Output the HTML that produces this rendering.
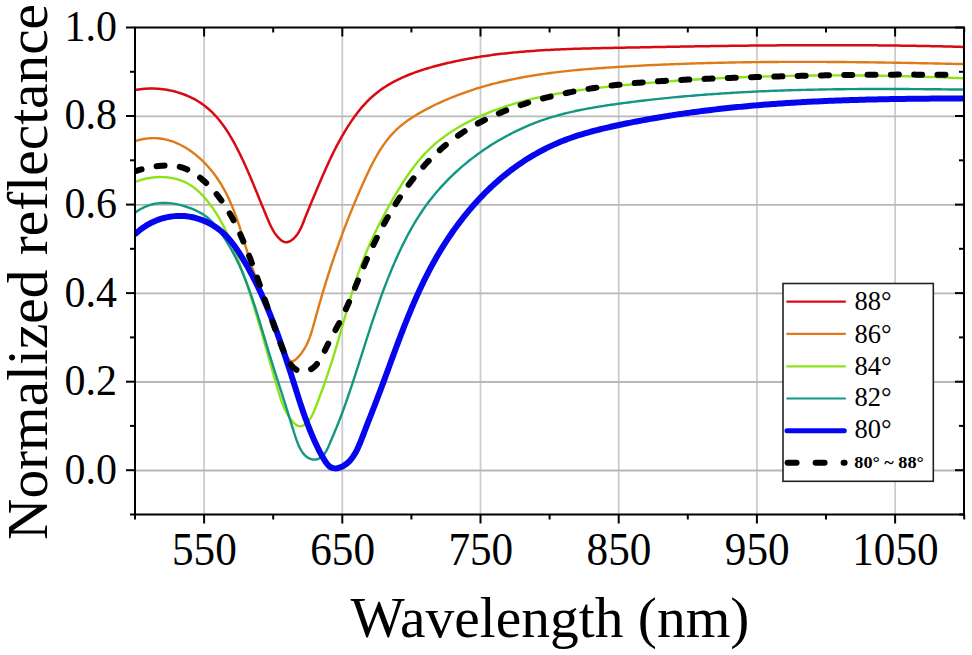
<!DOCTYPE html>
<html><head><meta charset="utf-8"><style>
html,body{margin:0;padding:0;background:#fff;width:972px;height:655px;overflow:hidden}
svg{display:block}
text{font-family:"Liberation Serif",serif;fill:#000}
</style></head><body>
<svg width="972" height="655" viewBox="0 0 972 655">
<rect width="972" height="655" fill="#fff"/>
<g stroke="#cccccc" stroke-width="1.8"><line x1="204.1" y1="27.5" x2="204.1" y2="514.5"/><line x1="342.3" y1="27.5" x2="342.3" y2="514.5"/><line x1="480.5" y1="27.5" x2="480.5" y2="514.5"/><line x1="618.7" y1="27.5" x2="618.7" y2="514.5"/><line x1="756.9" y1="27.5" x2="756.9" y2="514.5"/><line x1="895.1" y1="27.5" x2="895.1" y2="514.5"/></g>
<g stroke="#b8b8b8" stroke-width="1.8"><line x1="135" y1="470.5" x2="964" y2="470.5"/><line x1="135" y1="382.0" x2="964" y2="382.0"/><line x1="135" y1="293.4" x2="964" y2="293.4"/><line x1="135" y1="204.9" x2="964" y2="204.9"/><line x1="135" y1="116.3" x2="964" y2="116.3"/></g>
<defs><clipPath id="pc"><rect x="135" y="27.5" width="829" height="487"/></clipPath></defs>
<g clip-path="url(#pc)"><path d="M134.61,90.18 L136.55,89.81 L138.51,89.48 L140.49,89.20 L142.48,88.97 L144.48,88.79 L146.49,88.65 L148.52,88.56 L150.55,88.51 L152.58,88.52 L154.62,88.57 L156.67,88.66 L158.71,88.80 L160.76,88.99 L162.80,89.22 L164.84,89.50 L166.88,89.83 L168.91,90.19 L170.93,90.61 L172.95,91.06 L174.95,91.57 L176.94,92.11 L178.91,92.70 L180.87,93.34 L182.81,94.01 L184.74,94.73 L186.64,95.50 L188.52,96.30 L190.38,97.15 L192.22,98.04 L194.02,98.98 L195.80,99.95 L197.55,100.97 L199.27,102.03 L200.96,103.13 L202.61,104.28 L204.23,105.46 L205.81,106.68 L207.35,107.95 L208.86,109.25 L210.34,110.58 L211.78,111.96 L213.20,113.36 L214.58,114.80 L215.93,116.27 L217.26,117.77 L218.55,119.29 L219.82,120.85 L221.06,122.43 L222.28,124.03 L223.47,125.66 L224.63,127.31 L225.77,128.98 L226.89,130.67 L227.99,132.37 L229.07,134.10 L230.13,135.83 L231.16,137.59 L232.18,139.35 L233.19,141.13 L234.17,142.92 L235.14,144.71 L236.10,146.51 L237.04,148.32 L237.96,150.14 L238.88,151.96 L239.78,153.78 L240.67,155.60 L241.55,157.43 L242.42,159.26 L243.28,161.09 L244.13,162.93 L244.97,164.77 L245.80,166.61 L246.62,168.45 L247.44,170.30 L248.24,172.15 L249.05,174.00 L249.84,175.85 L250.63,177.71 L251.42,179.56 L252.20,181.42 L252.97,183.28 L253.74,185.14 L254.51,187.00 L255.28,188.86 L256.04,190.72 L256.80,192.59 L257.56,194.45 L258.32,196.31 L259.08,198.18 L259.84,200.04 L260.59,201.91 L261.35,203.77 L262.12,205.64 L262.88,207.50 L263.65,209.37 L264.42,211.23 L265.19,213.09 L265.97,214.96 L266.75,216.82 L267.53,218.68 L268.33,220.53 L269.13,222.39 L269.95,224.23 L270.81,226.06 L271.71,227.87 L272.67,229.65 L273.69,231.41 L274.79,233.12 L275.97,234.79 L277.26,236.41 L278.65,237.98 L280.15,239.45 L281.74,240.71 L283.41,241.66 L285.14,242.19 L286.92,242.22 L288.71,241.77 L290.47,240.93 L292.16,239.79 L293.76,238.44 L295.22,236.97 L296.54,235.39 L297.73,233.74 L298.82,232.01 L299.82,230.22 L300.74,228.38 L301.60,226.51 L302.41,224.60 L303.19,222.68 L303.95,220.75 L304.71,218.83 L305.46,216.91 L306.22,215.01 L306.99,213.11 L307.75,211.22 L308.52,209.33 L309.29,207.46 L310.06,205.59 L310.84,203.72 L311.61,201.86 L312.39,200.01 L313.16,198.15 L313.94,196.31 L314.72,194.46 L315.50,192.62 L316.28,190.78 L317.06,188.94 L317.84,187.10 L318.61,185.26 L319.40,183.43 L320.18,181.59 L320.96,179.76 L321.75,177.93 L322.54,176.10 L323.33,174.28 L324.13,172.45 L324.94,170.63 L325.75,168.81 L326.56,166.99 L327.38,165.18 L328.21,163.36 L329.05,161.55 L329.89,159.75 L330.74,157.94 L331.60,156.14 L332.47,154.34 L333.36,152.55 L334.25,150.76 L335.15,148.97 L336.07,147.18 L336.99,145.40 L337.94,143.63 L338.89,141.85 L339.86,140.08 L340.84,138.32 L341.84,136.56 L342.85,134.80 L343.88,133.05 L344.92,131.30 L345.98,129.56 L347.06,127.82 L348.16,126.09 L349.28,124.36 L350.42,122.64 L351.57,120.92 L352.75,119.21 L353.94,117.52 L355.16,115.83 L356.39,114.16 L357.65,112.51 L358.93,110.88 L360.23,109.26 L361.55,107.67 L362.90,106.11 L364.27,104.57 L365.66,103.06 L367.07,101.58 L368.50,100.13 L369.96,98.71 L371.45,97.34 L372.95,95.99 L374.48,94.68 L376.03,93.41 L377.61,92.17 L379.20,90.96 L380.81,89.78 L382.45,88.64 L384.10,87.52 L385.77,86.44 L387.46,85.38 L389.17,84.36 L390.89,83.36 L392.63,82.39 L394.38,81.44 L396.15,80.52 L397.94,79.63 L399.74,78.76 L401.55,77.91 L403.37,77.09 L405.21,76.29 L407.06,75.51 L408.92,74.75 L410.79,74.02 L412.67,73.30 L414.56,72.60 L416.46,71.93 L418.36,71.27 L420.28,70.62 L422.20,70.00 L424.12,69.38 L426.06,68.79 L428.00,68.21 L429.94,67.64 L431.89,67.09 L433.84,66.55 L435.79,66.02 L437.75,65.50 L439.70,64.99 L441.66,64.49 L443.63,64.01 L445.59,63.53 L447.55,63.06 L449.52,62.61 L451.49,62.16 L453.46,61.73 L455.43,61.30 L457.40,60.88 L459.38,60.47 L461.35,60.07 L463.33,59.68 L465.31,59.30 L467.29,58.93 L469.27,58.57 L471.26,58.21 L473.24,57.87 L475.23,57.53 L477.21,57.20 L479.20,56.88 L481.19,56.57 L483.19,56.26 L485.18,55.97 L487.17,55.68 L489.17,55.40 L491.16,55.12 L493.16,54.86 L495.16,54.60 L497.16,54.34 L499.16,54.10 L501.16,53.86 L503.17,53.63 L505.17,53.40 L507.18,53.19 L509.18,52.97 L511.19,52.77 L513.20,52.57 L515.21,52.38 L517.22,52.19 L519.23,52.01 L521.24,51.83 L523.25,51.66 L525.27,51.49 L527.28,51.34 L529.30,51.18 L531.31,51.03 L533.33,50.89 L535.35,50.75 L537.36,50.61 L539.38,50.48 L541.40,50.36 L543.42,50.24 L545.44,50.12 L547.46,50.01 L549.49,49.90 L551.51,49.80 L553.53,49.70 L555.55,49.60 L557.58,49.51 L559.60,49.42 L561.63,49.33 L563.65,49.25 L565.68,49.17 L567.70,49.09 L569.73,49.01 L571.75,48.94 L573.78,48.87 L575.81,48.81 L577.84,48.74 L579.86,48.68 L581.89,48.62 L583.92,48.57 L585.95,48.51 L587.97,48.46 L590.00,48.40 L592.03,48.35 L594.06,48.30 L596.09,48.26 L598.11,48.21 L600.14,48.16 L602.17,48.12 L604.20,48.08 L606.23,48.03 L608.25,47.99 L610.28,47.95 L612.31,47.91 L614.34,47.87 L616.37,47.83 L618.39,47.79 L620.42,47.75 L622.45,47.70 L624.47,47.66 L626.50,47.62 L628.53,47.58 L630.55,47.54 L632.58,47.50 L634.60,47.46 L636.63,47.42 L638.65,47.38 L640.68,47.35 L642.70,47.31 L644.73,47.27 L646.75,47.23 L648.78,47.19 L650.80,47.15 L652.83,47.11 L654.85,47.08 L656.87,47.04 L658.90,47.00 L660.92,46.96 L662.95,46.93 L664.97,46.89 L666.99,46.85 L669.01,46.82 L671.04,46.78 L673.06,46.75 L675.08,46.71 L677.11,46.67 L679.13,46.64 L681.15,46.60 L683.17,46.57 L685.19,46.54 L687.22,46.50 L689.24,46.47 L691.26,46.43 L693.28,46.40 L695.30,46.37 L697.32,46.34 L699.35,46.30 L701.37,46.27 L703.39,46.24 L705.41,46.21 L707.43,46.18 L709.45,46.15 L711.47,46.12 L713.49,46.09 L715.51,46.06 L717.53,46.03 L719.55,46.00 L721.57,45.98 L723.59,45.95 L725.61,45.92 L727.63,45.89 L729.65,45.87 L731.67,45.84 L733.69,45.81 L735.71,45.79 L737.73,45.76 L739.75,45.74 L741.77,45.72 L743.79,45.69 L745.81,45.67 L747.83,45.65 L749.85,45.62 L751.87,45.60 L753.88,45.58 L755.90,45.56 L757.92,45.54 L759.94,45.52 L761.96,45.50 L763.98,45.48 L766.00,45.46 L768.02,45.45 L770.04,45.43 L772.05,45.41 L774.07,45.40 L776.09,45.38 L778.11,45.36 L780.13,45.35 L782.15,45.33 L784.17,45.32 L786.18,45.31 L788.20,45.30 L790.22,45.28 L792.24,45.27 L794.26,45.26 L796.28,45.25 L798.30,45.24 L800.31,45.23 L802.33,45.22 L804.35,45.22 L806.37,45.21 L808.39,45.20 L810.41,45.20 L812.43,45.19 L814.44,45.19 L816.46,45.18 L818.48,45.18 L820.50,45.17 L822.52,45.17 L824.54,45.17 L826.56,45.17 L828.57,45.17 L830.59,45.17 L832.61,45.17 L834.63,45.17 L836.65,45.17 L838.67,45.18 L840.69,45.18 L842.71,45.19 L844.73,45.19 L846.74,45.20 L848.76,45.20 L850.78,45.21 L852.80,45.22 L854.82,45.23 L856.84,45.24 L858.86,45.25 L860.88,45.26 L862.90,45.27 L864.92,45.28 L866.94,45.30 L868.96,45.31 L870.98,45.32 L873.00,45.34 L875.02,45.36 L877.04,45.37 L879.06,45.39 L881.08,45.41 L883.10,45.43 L885.12,45.45 L887.14,45.47 L889.16,45.49 L891.18,45.52 L893.20,45.54 L895.22,45.56 L897.24,45.59 L899.26,45.62 L901.29,45.64 L903.31,45.67 L905.33,45.70 L907.35,45.73 L909.37,45.76 L911.39,45.79 L913.42,45.82 L915.44,45.86 L917.46,45.89 L919.48,45.93 L921.50,45.96 L923.53,46.00 L925.55,46.04 L927.57,46.08 L929.59,46.11 L931.62,46.16 L933.64,46.20 L935.66,46.24 L937.69,46.28 L939.71,46.33 L941.73,46.37 L943.76,46.42 L945.78,46.47 L947.81,46.51 L949.83,46.56 L951.86,46.61 L953.88,46.66 L955.91,46.72 L957.93,46.77 L959.96,46.82 L961.98,46.88 L964.01,46.93" fill="none" stroke="#d80a12" stroke-width="2.5" stroke-linejoin="round"/>
<path d="M134.57,141.40 L136.89,140.63 L139.21,139.97 L141.52,139.41 L143.82,138.96 L146.11,138.60 L148.39,138.35 L150.66,138.19 L152.91,138.13 L155.15,138.16 L157.37,138.28 L159.58,138.49 L161.77,138.79 L163.94,139.17 L166.10,139.63 L168.24,140.17 L170.36,140.79 L172.46,141.48 L174.53,142.24 L176.59,143.08 L178.62,143.99 L180.64,144.96 L182.62,145.99 L184.58,147.09 L186.52,148.25 L188.43,149.46 L190.32,150.73 L192.17,152.06 L194.00,153.43 L195.80,154.85 L197.57,156.32 L199.31,157.84 L201.01,159.40 L202.69,160.99 L204.33,162.63 L205.94,164.30 L207.51,166.00 L209.05,167.74 L210.55,169.50 L212.01,171.29 L213.44,173.11 L214.83,174.95 L216.18,176.81 L217.49,178.69 L218.76,180.58 L219.99,182.49 L221.19,184.42 L222.34,186.36 L223.47,188.32 L224.56,190.29 L225.62,192.27 L226.64,194.27 L227.64,196.28 L228.61,198.31 L229.55,200.34 L230.46,202.39 L231.35,204.45 L232.22,206.52 L233.07,208.60 L233.89,210.69 L234.69,212.79 L235.48,214.90 L236.25,217.02 L237.00,219.14 L237.74,221.27 L238.46,223.41 L239.18,225.56 L239.88,227.71 L240.57,229.87 L241.26,232.03 L241.93,234.20 L242.60,236.37 L243.27,238.55 L243.93,240.73 L244.59,242.91 L245.25,245.10 L245.91,247.29 L246.58,249.47 L247.24,251.66 L247.91,253.85 L248.59,256.05 L249.27,258.24 L249.96,260.43 L250.66,262.61 L251.37,264.80 L252.09,266.98 L252.83,269.17 L253.57,271.35 L254.33,273.52 L255.10,275.70 L255.88,277.87 L256.67,280.03 L257.47,282.20 L258.28,284.36 L259.09,286.51 L259.91,288.67 L260.74,290.82 L261.57,292.96 L262.40,295.10 L263.24,297.24 L264.08,299.37 L264.92,301.50 L265.77,303.62 L266.61,305.74 L267.46,307.86 L268.30,309.97 L269.14,312.07 L269.98,314.17 L270.81,316.26 L271.64,318.35 L272.47,320.43 L273.29,322.51 L274.10,324.58 L274.91,326.65 L275.71,328.71 L276.50,330.76 L277.28,332.81 L278.05,334.85 L278.81,336.88 L279.57,338.91 L280.33,340.96 L281.11,343.05 L281.93,345.21 L282.81,347.44 L283.76,349.77 L284.80,352.23 L285.94,354.72 L287.17,357.07 L288.52,359.08 L289.97,360.54 L291.53,361.26 L293.21,361.10 L294.95,360.17 L296.70,358.70 L298.39,356.93 L299.98,355.06 L301.45,353.16 L302.82,351.22 L304.08,349.25 L305.25,347.25 L306.33,345.22 L307.33,343.16 L308.25,341.09 L309.12,338.99 L309.92,336.87 L310.67,334.74 L311.38,332.59 L312.05,330.43 L312.69,328.26 L313.31,326.08 L313.91,323.89 L314.50,321.71 L315.10,319.52 L315.69,317.33 L316.30,315.14 L316.90,312.95 L317.51,310.76 L318.13,308.57 L318.75,306.38 L319.37,304.19 L320.00,302.00 L320.64,299.82 L321.27,297.63 L321.92,295.45 L322.57,293.27 L323.22,291.09 L323.87,288.91 L324.54,286.73 L325.20,284.55 L325.87,282.38 L326.55,280.21 L327.23,278.04 L327.92,275.87 L328.61,273.70 L329.30,271.54 L330.00,269.38 L330.71,267.22 L331.42,265.06 L332.14,262.90 L332.86,260.75 L333.58,258.60 L334.31,256.45 L335.05,254.30 L335.79,252.16 L336.54,250.01 L337.29,247.87 L338.05,245.73 L338.81,243.60 L339.58,241.46 L340.35,239.33 L341.13,237.20 L341.92,235.07 L342.71,232.94 L343.50,230.82 L344.30,228.70 L345.11,226.58 L345.92,224.46 L346.74,222.34 L347.56,220.23 L348.39,218.11 L349.23,216.00 L350.07,213.90 L350.92,211.79 L351.77,209.69 L352.63,207.58 L353.49,205.48 L354.37,203.39 L355.24,201.29 L356.13,199.20 L357.02,197.10 L357.91,195.01 L358.81,192.92 L359.72,190.84 L360.63,188.75 L361.55,186.67 L362.48,184.59 L363.41,182.51 L364.35,180.44 L365.30,178.36 L366.25,176.29 L367.21,174.23 L368.19,172.16 L369.17,170.11 L370.17,168.06 L371.18,166.03 L372.21,164.00 L373.25,161.99 L374.32,159.99 L375.40,158.00 L376.51,156.03 L377.64,154.08 L378.79,152.15 L379.98,150.24 L381.19,148.35 L382.43,146.49 L383.70,144.65 L385.00,142.84 L386.33,141.05 L387.71,139.29 L389.11,137.57 L390.56,135.87 L392.05,134.21 L393.58,132.58 L395.15,130.99 L396.76,129.43 L398.42,127.92 L400.12,126.44 L401.86,124.99 L403.64,123.58 L405.45,122.20 L407.29,120.85 L409.17,119.54 L411.07,118.25 L413.00,117.00 L414.95,115.77 L416.92,114.56 L418.92,113.39 L420.93,112.24 L422.95,111.11 L424.99,110.00 L427.03,108.92 L429.09,107.85 L431.15,106.81 L433.22,105.78 L435.29,104.78 L437.36,103.79 L439.44,102.82 L441.53,101.87 L443.62,100.93 L445.72,100.01 L447.82,99.12 L449.92,98.23 L452.03,97.37 L454.14,96.52 L456.26,95.69 L458.38,94.87 L460.51,94.08 L462.64,93.29 L464.77,92.53 L466.91,91.78 L469.05,91.04 L471.20,90.32 L473.35,89.62 L475.51,88.93 L477.66,88.25 L479.83,87.59 L481.99,86.95 L484.16,86.31 L486.33,85.70 L488.51,85.09 L490.69,84.50 L492.87,83.92 L495.06,83.36 L497.25,82.81 L499.44,82.27 L501.64,81.74 L503.83,81.23 L506.04,80.73 L508.24,80.24 L510.45,79.76 L512.66,79.30 L514.87,78.84 L517.09,78.40 L519.31,77.97 L521.53,77.55 L523.75,77.14 L525.98,76.74 L528.20,76.35 L530.44,75.97 L532.67,75.60 L534.90,75.24 L537.14,74.89 L539.38,74.54 L541.62,74.21 L543.86,73.89 L546.11,73.57 L548.36,73.27 L550.61,72.97 L552.86,72.68 L555.11,72.40 L557.36,72.12 L559.62,71.86 L561.88,71.60 L564.13,71.34 L566.39,71.10 L568.65,70.86 L570.92,70.63 L573.18,70.40 L575.44,70.18 L577.71,69.97 L579.98,69.76 L582.24,69.56 L584.51,69.36 L586.78,69.17 L589.05,68.98 L591.32,68.80 L593.59,68.62 L595.87,68.45 L598.14,68.28 L600.41,68.11 L602.68,67.95 L604.96,67.79 L607.23,67.64 L609.51,67.49 L611.78,67.34 L614.05,67.19 L616.33,67.05 L618.60,66.91 L620.88,66.77 L623.15,66.64 L625.43,66.50 L627.70,66.37 L629.97,66.24 L632.25,66.11 L634.52,65.99 L636.80,65.87 L639.07,65.75 L641.34,65.63 L643.62,65.51 L645.89,65.40 L648.16,65.28 L650.44,65.17 L652.71,65.07 L654.98,64.96 L657.26,64.86 L659.53,64.76 L661.80,64.66 L664.08,64.56 L666.35,64.46 L668.62,64.37 L670.90,64.28 L673.17,64.19 L675.44,64.10 L677.71,64.01 L679.99,63.93 L682.26,63.85 L684.53,63.77 L686.80,63.69 L689.08,63.61 L691.35,63.54 L693.62,63.46 L695.89,63.39 L698.17,63.32 L700.44,63.25 L702.71,63.19 L704.98,63.13 L707.26,63.06 L709.53,63.00 L711.80,62.94 L714.07,62.89 L716.34,62.83 L718.62,62.78 L720.89,62.73 L723.16,62.68 L725.43,62.63 L727.70,62.58 L729.98,62.53 L732.25,62.49 L734.52,62.45 L736.79,62.41 L739.06,62.37 L741.33,62.33 L743.61,62.30 L745.88,62.26 L748.15,62.23 L750.42,62.20 L752.69,62.17 L754.96,62.14 L757.24,62.11 L759.51,62.09 L761.78,62.06 L764.05,62.04 L766.32,62.02 L768.59,62.00 L770.86,61.98 L773.14,61.96 L775.41,61.95 L777.68,61.93 L779.95,61.92 L782.22,61.91 L784.49,61.90 L786.76,61.89 L789.04,61.88 L791.31,61.88 L793.58,61.87 L795.85,61.87 L798.12,61.86 L800.39,61.86 L802.66,61.86 L804.94,61.86 L807.21,61.87 L809.48,61.87 L811.75,61.87 L814.02,61.88 L816.29,61.89 L818.56,61.89 L820.84,61.90 L823.11,61.91 L825.38,61.92 L827.65,61.94 L829.92,61.95 L832.19,61.96 L834.46,61.98 L836.74,61.99 L839.01,62.01 L841.28,62.03 L843.55,62.05 L845.82,62.07 L848.09,62.09 L850.37,62.11 L852.64,62.13 L854.91,62.16 L857.18,62.18 L859.45,62.21 L861.72,62.23 L864.00,62.26 L866.27,62.29 L868.54,62.32 L870.81,62.35 L873.08,62.38 L875.36,62.41 L877.63,62.44 L879.90,62.48 L882.17,62.51 L884.44,62.54 L886.72,62.58 L888.99,62.61 L891.26,62.65 L893.53,62.69 L895.81,62.73 L898.08,62.76 L900.35,62.80 L902.62,62.84 L904.90,62.88 L907.17,62.92 L909.44,62.97 L911.71,63.01 L913.99,63.05 L916.26,63.09 L918.53,63.14 L920.81,63.18 L923.08,63.23 L925.35,63.27 L927.62,63.32 L929.90,63.36 L932.17,63.41 L934.44,63.46 L936.72,63.50 L938.99,63.55 L941.26,63.60 L943.54,63.65 L945.81,63.70 L948.08,63.75 L950.36,63.80 L952.63,63.85 L954.91,63.90 L957.18,63.95 L959.45,64.00 L961.73,64.05 L964.00,64.10" fill="none" stroke="#e07a18" stroke-width="2.4" stroke-linejoin="round"/>
<path d="M134.60,182.20 L136.79,181.35 L139.02,180.57 L141.29,179.87 L143.59,179.24 L145.92,178.68 L148.28,178.21 L150.65,177.81 L153.05,177.50 L155.45,177.27 L157.86,177.12 L160.27,177.06 L162.68,177.08 L165.09,177.19 L167.48,177.40 L169.85,177.69 L172.21,178.08 L174.54,178.56 L176.83,179.14 L179.10,179.81 L181.33,180.59 L183.51,181.46 L185.64,182.44 L187.72,183.52 L189.75,184.70 L191.72,185.98 L193.64,187.35 L195.51,188.80 L197.32,190.33 L199.09,191.93 L200.80,193.59 L202.47,195.31 L204.10,197.08 L205.68,198.90 L207.22,200.75 L208.71,202.64 L210.17,204.55 L211.58,206.47 L212.96,208.42 L214.30,210.39 L215.60,212.38 L216.87,214.38 L218.11,216.40 L219.32,218.43 L220.49,220.48 L221.64,222.55 L222.76,224.63 L223.85,226.72 L224.91,228.82 L225.96,230.94 L226.98,233.07 L227.97,235.21 L228.95,237.36 L229.91,239.52 L230.85,241.69 L231.78,243.87 L232.69,246.05 L233.59,248.25 L234.47,250.45 L235.34,252.65 L236.21,254.86 L237.06,257.08 L237.91,259.30 L238.74,261.52 L239.57,263.75 L240.39,265.98 L241.20,268.22 L242.01,270.46 L242.80,272.70 L243.59,274.95 L244.38,277.20 L245.15,279.45 L245.92,281.71 L246.68,283.97 L247.43,286.23 L248.18,288.49 L248.92,290.76 L249.65,293.03 L250.38,295.30 L251.10,297.57 L251.82,299.84 L252.53,302.11 L253.24,304.39 L253.94,306.67 L254.63,308.94 L255.33,311.22 L256.01,313.50 L256.69,315.78 L257.37,318.06 L258.04,320.33 L258.71,322.61 L259.38,324.89 L260.04,327.17 L260.70,329.45 L261.36,331.73 L262.01,334.01 L262.66,336.29 L263.31,338.57 L263.96,340.85 L264.61,343.13 L265.26,345.41 L265.90,347.70 L266.54,349.98 L267.19,352.26 L267.83,354.54 L268.48,356.83 L269.12,359.11 L269.77,361.40 L270.41,363.68 L271.06,365.97 L271.71,368.26 L272.36,370.55 L273.01,372.83 L273.67,375.12 L274.33,377.41 L274.99,379.70 L275.65,382.00 L276.32,384.29 L276.99,386.58 L277.66,388.88 L278.34,391.17 L279.03,393.47 L279.74,395.76 L280.47,398.04 L281.23,400.31 L282.04,402.56 L282.89,404.80 L283.81,407.02 L284.80,409.21 L285.86,411.37 L287.00,413.49 L288.24,415.58 L289.58,417.64 L291.04,419.64 L292.61,421.60 L294.30,423.41 L296.12,424.90 L298.07,425.88 L300.10,426.24 L302.15,425.93 L304.16,424.99 L306.06,423.57 L307.82,421.81 L309.38,419.86 L310.75,417.80 L311.94,415.66 L313.01,413.46 L313.99,411.23 L314.90,408.97 L315.80,406.71 L316.68,404.46 L317.55,402.21 L318.42,399.96 L319.27,397.72 L320.11,395.48 L320.94,393.25 L321.77,391.01 L322.58,388.78 L323.38,386.55 L324.18,384.33 L324.97,382.10 L325.74,379.87 L326.51,377.65 L327.27,375.42 L328.03,373.19 L328.77,370.96 L329.51,368.73 L330.24,366.49 L330.97,364.26 L331.68,362.02 L332.39,359.77 L333.10,357.52 L333.79,355.27 L334.48,353.01 L335.17,350.75 L335.85,348.48 L336.52,346.21 L337.19,343.94 L337.86,341.66 L338.53,339.37 L339.19,337.09 L339.84,334.80 L340.50,332.50 L341.16,330.21 L341.81,327.91 L342.46,325.61 L343.12,323.31 L343.77,321.01 L344.42,318.71 L345.08,316.41 L345.74,314.11 L346.40,311.80 L347.06,309.50 L347.73,307.20 L348.40,304.90 L349.08,302.60 L349.76,300.30 L350.44,298.01 L351.13,295.71 L351.83,293.42 L352.53,291.13 L353.25,288.85 L353.96,286.56 L354.69,284.29 L355.43,282.01 L356.17,279.74 L356.93,277.48 L357.69,275.21 L358.47,272.96 L359.25,270.71 L360.05,268.46 L360.86,266.23 L361.68,263.99 L362.52,261.77 L363.37,259.55 L364.23,257.34 L365.11,255.14 L366.00,252.94 L366.91,250.75 L367.83,248.57 L368.76,246.40 L369.71,244.23 L370.68,242.07 L371.65,239.92 L372.64,237.77 L373.65,235.63 L374.66,233.50 L375.69,231.37 L376.73,229.24 L377.79,227.12 L378.85,225.01 L379.93,222.90 L381.01,220.79 L382.11,218.69 L383.22,216.60 L384.34,214.50 L385.47,212.41 L386.61,210.32 L387.76,208.24 L388.92,206.16 L390.09,204.08 L391.26,202.00 L392.45,199.93 L393.64,197.85 L394.85,195.78 L396.06,193.72 L397.28,191.65 L398.52,189.60 L399.77,187.55 L401.03,185.51 L402.31,183.48 L403.60,181.46 L404.91,179.45 L406.23,177.45 L407.57,175.47 L408.93,173.50 L410.31,171.55 L411.71,169.62 L413.13,167.70 L414.57,165.81 L416.04,163.93 L417.52,162.07 L419.04,160.24 L420.57,158.44 L422.14,156.65 L423.73,154.90 L425.34,153.17 L426.99,151.46 L428.66,149.79 L430.37,148.15 L432.10,146.54 L433.87,144.96 L435.66,143.41 L437.48,141.89 L439.32,140.40 L441.19,138.94 L443.09,137.50 L445.01,136.10 L446.95,134.72 L448.91,133.37 L450.90,132.05 L452.90,130.75 L454.92,129.48 L456.96,128.24 L459.02,127.02 L461.10,125.83 L463.18,124.66 L465.29,123.52 L467.40,122.40 L469.53,121.31 L471.67,120.24 L473.82,119.19 L475.98,118.16 L478.15,117.16 L480.33,116.18 L482.51,115.22 L484.70,114.28 L486.90,113.37 L489.10,112.47 L491.31,111.59 L493.53,110.74 L495.75,109.90 L497.97,109.09 L500.21,108.29 L502.44,107.51 L504.69,106.75 L506.94,106.01 L509.19,105.28 L511.45,104.58 L513.71,103.89 L515.98,103.21 L518.26,102.56 L520.54,101.92 L522.82,101.29 L525.11,100.69 L527.40,100.09 L529.70,99.52 L532.00,98.95 L534.30,98.41 L536.61,97.87 L538.93,97.35 L541.24,96.84 L543.56,96.35 L545.89,95.87 L548.21,95.40 L550.54,94.94 L552.88,94.50 L555.21,94.07 L557.55,93.65 L559.89,93.24 L562.24,92.84 L564.59,92.45 L566.94,92.07 L569.29,91.70 L571.64,91.34 L574.00,90.99 L576.36,90.65 L578.72,90.31 L581.08,89.99 L583.45,89.67 L585.82,89.36 L588.18,89.06 L590.55,88.76 L592.92,88.47 L595.29,88.19 L597.67,87.91 L600.04,87.64 L602.42,87.37 L604.79,87.11 L607.17,86.86 L609.54,86.60 L611.92,86.36 L614.30,86.11 L616.67,85.87 L619.05,85.64 L621.43,85.40 L623.81,85.17 L626.18,84.94 L628.56,84.72 L630.94,84.50 L633.31,84.28 L635.69,84.06 L638.07,83.85 L640.45,83.64 L642.82,83.43 L645.20,83.22 L647.58,83.02 L649.96,82.82 L652.33,82.63 L654.71,82.43 L657.09,82.24 L659.46,82.05 L661.84,81.87 L664.22,81.69 L666.60,81.51 L668.97,81.33 L671.35,81.16 L673.73,80.99 L676.11,80.82 L678.48,80.65 L680.86,80.49 L683.24,80.33 L685.61,80.17 L687.99,80.02 L690.37,79.87 L692.75,79.72 L695.12,79.57 L697.50,79.43 L699.88,79.29 L702.26,79.15 L704.63,79.01 L707.01,78.88 L709.39,78.75 L711.77,78.62 L714.14,78.50 L716.52,78.38 L718.90,78.26 L721.28,78.14 L723.65,78.02 L726.03,77.91 L728.41,77.80 L730.79,77.70 L733.16,77.59 L735.54,77.49 L737.92,77.39 L740.30,77.29 L742.68,77.20 L745.05,77.11 L747.43,77.02 L749.81,76.93 L752.19,76.85 L754.56,76.77 L756.94,76.69 L759.32,76.61 L761.70,76.54 L764.08,76.46 L766.45,76.40 L768.83,76.33 L771.21,76.26 L773.59,76.20 L775.97,76.14 L778.35,76.08 L780.72,76.03 L783.10,75.98 L785.48,75.93 L787.86,75.88 L790.24,75.83 L792.62,75.79 L794.99,75.75 L797.37,75.71 L799.75,75.68 L802.13,75.64 L804.51,75.61 L806.89,75.58 L809.27,75.55 L811.64,75.53 L814.02,75.51 L816.40,75.49 L818.78,75.47 L821.16,75.45 L823.54,75.44 L825.92,75.43 L828.30,75.42 L830.68,75.41 L833.06,75.41 L835.43,75.41 L837.81,75.41 L840.19,75.41 L842.57,75.41 L844.95,75.42 L847.33,75.43 L849.71,75.44 L852.09,75.45 L854.47,75.47 L856.85,75.48 L859.23,75.50 L861.61,75.52 L863.99,75.55 L866.37,75.57 L868.75,75.60 L871.13,75.63 L873.51,75.66 L875.89,75.69 L878.27,75.73 L880.65,75.77 L883.03,75.81 L885.41,75.85 L887.79,75.89 L890.17,75.94 L892.55,75.98 L894.93,76.03 L897.31,76.09 L899.70,76.14 L902.08,76.19 L904.46,76.25 L906.84,76.31 L909.22,76.37 L911.60,76.43 L913.98,76.50 L916.36,76.57 L918.74,76.64 L921.13,76.71 L923.51,76.78 L925.89,76.85 L928.27,76.93 L930.65,77.01 L933.03,77.09 L935.42,77.17 L937.80,77.25 L940.18,77.34 L942.56,77.42 L944.94,77.51 L947.33,77.60 L949.71,77.70 L952.09,77.79 L954.47,77.89 L956.86,77.98 L959.24,78.08 L961.62,78.19 L964.01,78.29" fill="none" stroke="#8ce418" stroke-width="2.4" stroke-linejoin="round"/>
<path d="M134.60,213.10 L136.78,211.49 L138.98,210.03 L141.21,208.72 L143.47,207.56 L145.74,206.53 L148.04,205.65 L150.35,204.90 L152.68,204.27 L155.02,203.77 L157.37,203.39 L159.73,203.12 L162.10,202.96 L164.47,202.91 L166.84,202.96 L169.21,203.11 L171.57,203.35 L173.93,203.68 L176.29,204.09 L178.63,204.59 L180.96,205.15 L183.27,205.79 L185.57,206.50 L187.85,207.27 L190.11,208.09 L192.35,208.97 L194.55,209.90 L196.72,210.90 L198.85,211.96 L200.93,213.10 L202.95,214.32 L204.91,215.63 L206.81,217.03 L208.63,218.53 L210.37,220.12 L212.05,221.80 L213.67,223.55 L215.23,225.36 L216.74,227.23 L218.20,229.13 L219.63,231.07 L221.02,233.03 L222.39,235.01 L223.72,237.00 L225.03,239.00 L226.31,241.02 L227.56,243.05 L228.78,245.10 L229.98,247.16 L231.16,249.24 L232.31,251.32 L233.43,253.42 L234.54,255.53 L235.62,257.65 L236.67,259.79 L237.71,261.93 L238.73,264.09 L239.72,266.25 L240.70,268.43 L241.66,270.62 L242.60,272.81 L243.52,275.02 L244.43,277.23 L245.32,279.45 L246.19,281.69 L247.05,283.92 L247.89,286.17 L248.73,288.42 L249.54,290.68 L250.35,292.95 L251.14,295.22 L251.93,297.50 L252.70,299.79 L253.46,302.08 L254.22,304.37 L254.96,306.67 L255.70,308.98 L256.43,311.29 L257.15,313.60 L257.87,315.91 L258.58,318.23 L259.29,320.55 L260.00,322.87 L260.70,325.20 L261.40,327.53 L262.09,329.86 L262.79,332.19 L263.48,334.52 L264.18,336.85 L264.87,339.18 L265.57,341.51 L266.26,343.84 L266.96,346.17 L267.67,348.50 L268.37,350.83 L269.08,353.15 L269.80,355.48 L270.52,357.80 L271.24,360.12 L271.96,362.43 L272.69,364.75 L273.41,367.06 L274.14,369.36 L274.87,371.66 L275.60,373.96 L276.33,376.26 L277.06,378.55 L277.79,380.83 L278.52,383.11 L279.25,385.39 L279.98,387.66 L280.70,389.92 L281.42,392.18 L282.14,394.44 L282.86,396.68 L283.57,398.92 L284.28,401.15 L284.98,403.38 L285.68,405.60 L286.37,407.81 L287.06,410.01 L287.75,412.21 L288.42,414.39 L289.09,416.57 L289.76,418.75 L290.43,420.94 L291.11,423.15 L291.80,425.37 L292.50,427.62 L293.22,429.91 L293.97,432.25 L294.74,434.63 L295.54,437.07 L296.39,439.56 L297.29,442.04 L298.26,444.50 L299.32,446.90 L300.49,449.19 L301.77,451.36 L303.18,453.35 L304.75,455.15 L306.47,456.70 L308.38,457.99 L310.47,458.96 L312.70,459.55 L314.97,459.66 L317.22,459.24 L319.37,458.33 L321.37,457.01 L323.15,455.37 L324.71,453.47 L326.08,451.36 L327.30,449.11 L328.40,446.76 L329.41,444.39 L330.39,442.04 L331.35,439.76 L332.29,437.53 L333.22,435.34 L334.14,433.17 L335.04,431.02 L335.94,428.87 L336.83,426.70 L337.70,424.52 L338.57,422.34 L339.43,420.14 L340.29,417.94 L341.13,415.72 L341.97,413.50 L342.80,411.27 L343.62,409.04 L344.43,406.79 L345.24,404.54 L346.04,402.29 L346.84,400.02 L347.63,397.75 L348.41,395.48 L349.19,393.20 L349.97,390.92 L350.74,388.63 L351.50,386.34 L352.26,384.04 L353.02,381.74 L353.77,379.44 L354.52,377.14 L355.27,374.83 L356.01,372.52 L356.76,370.21 L357.50,367.90 L358.23,365.59 L358.97,363.28 L359.71,360.97 L360.44,358.66 L361.17,356.35 L361.91,354.04 L362.64,351.74 L363.37,349.43 L364.10,347.13 L364.84,344.83 L365.57,342.53 L366.31,340.23 L367.04,337.94 L367.78,335.64 L368.52,333.35 L369.27,331.06 L370.01,328.78 L370.76,326.49 L371.51,324.21 L372.27,321.93 L373.03,319.66 L373.79,317.38 L374.56,315.11 L375.33,312.84 L376.11,310.57 L376.89,308.31 L377.68,306.05 L378.48,303.79 L379.28,301.53 L380.08,299.28 L380.90,297.03 L381.72,294.78 L382.55,292.53 L383.38,290.29 L384.23,288.05 L385.08,285.81 L385.94,283.58 L386.81,281.34 L387.69,279.12 L388.58,276.89 L389.47,274.67 L390.38,272.45 L391.30,270.23 L392.23,268.02 L393.17,265.81 L394.12,263.60 L395.08,261.39 L396.05,259.19 L397.04,256.99 L398.04,254.80 L399.05,252.61 L400.07,250.42 L401.11,248.24 L402.16,246.07 L403.23,243.90 L404.31,241.74 L405.40,239.59 L406.51,237.44 L407.64,235.30 L408.78,233.17 L409.94,231.05 L411.12,228.95 L412.31,226.85 L413.52,224.76 L414.75,222.68 L416.00,220.62 L417.27,218.57 L418.55,216.54 L419.86,214.51 L421.18,212.50 L422.53,210.51 L423.90,208.53 L425.28,206.57 L426.69,204.63 L428.12,202.70 L429.57,200.79 L431.05,198.89 L432.54,197.01 L434.05,195.15 L435.58,193.31 L437.13,191.48 L438.70,189.67 L440.29,187.87 L441.90,186.10 L443.53,184.34 L445.17,182.59 L446.83,180.87 L448.52,179.16 L450.21,177.47 L451.93,175.80 L453.66,174.14 L455.41,172.50 L457.18,170.88 L458.96,169.28 L460.76,167.70 L462.58,166.13 L464.41,164.58 L466.25,163.05 L468.11,161.54 L469.99,160.05 L471.88,158.57 L473.79,157.11 L475.71,155.67 L477.64,154.25 L479.59,152.85 L481.55,151.47 L483.52,150.10 L485.51,148.76 L487.51,147.43 L489.52,146.12 L491.55,144.83 L493.58,143.56 L495.63,142.31 L497.69,141.08 L499.77,139.87 L501.85,138.68 L503.94,137.50 L506.05,136.35 L508.16,135.21 L510.29,134.10 L512.42,133.00 L514.57,131.93 L516.72,130.87 L518.88,129.84 L521.06,128.82 L523.24,127.83 L525.43,126.86 L527.63,125.91 L529.84,124.98 L532.05,124.07 L534.28,123.19 L536.51,122.33 L538.75,121.49 L541.00,120.68 L543.26,119.89 L545.52,119.12 L547.79,118.38 L550.07,117.66 L552.36,116.96 L554.65,116.28 L556.95,115.62 L559.25,114.99 L561.56,114.37 L563.88,113.77 L566.20,113.19 L568.52,112.62 L570.85,112.08 L573.19,111.55 L575.53,111.03 L577.88,110.53 L580.22,110.05 L582.58,109.58 L584.93,109.12 L587.30,108.67 L589.66,108.24 L592.03,107.82 L594.39,107.41 L596.77,107.01 L599.14,106.62 L601.52,106.24 L603.90,105.87 L606.28,105.51 L608.66,105.15 L611.04,104.81 L613.43,104.46 L615.81,104.13 L618.20,103.80 L620.58,103.47 L622.97,103.15 L625.36,102.83 L627.74,102.52 L630.13,102.21 L632.52,101.91 L634.91,101.61 L637.30,101.31 L639.69,101.02 L642.07,100.74 L644.46,100.46 L646.85,100.18 L649.25,99.90 L651.64,99.64 L654.03,99.37 L656.42,99.11 L658.81,98.85 L661.20,98.60 L663.60,98.35 L665.99,98.11 L668.38,97.87 L670.78,97.63 L673.17,97.40 L675.56,97.17 L677.96,96.95 L680.35,96.73 L682.75,96.51 L685.14,96.30 L687.54,96.09 L689.94,95.88 L692.33,95.68 L694.73,95.48 L697.13,95.29 L699.52,95.10 L701.92,94.91 L704.32,94.72 L706.72,94.54 L709.12,94.37 L711.51,94.19 L713.91,94.03 L716.31,93.86 L718.71,93.70 L721.11,93.54 L723.51,93.38 L725.91,93.23 L728.31,93.08 L730.71,92.93 L733.11,92.79 L735.51,92.65 L737.91,92.51 L740.31,92.38 L742.72,92.25 L745.12,92.12 L747.52,92.00 L749.92,91.88 L752.32,91.76 L754.73,91.64 L757.13,91.53 L759.53,91.42 L761.93,91.31 L764.34,91.21 L766.74,91.11 L769.14,91.01 L771.55,90.91 L773.95,90.82 L776.36,90.73 L778.76,90.64 L781.16,90.56 L783.57,90.48 L785.97,90.40 L788.38,90.32 L790.78,90.25 L793.19,90.17 L795.59,90.10 L798.00,90.04 L800.40,89.97 L802.81,89.91 L805.21,89.85 L807.62,89.79 L810.02,89.74 L812.43,89.68 L814.84,89.63 L817.24,89.58 L819.65,89.54 L822.05,89.49 L824.46,89.45 L826.87,89.41 L829.27,89.37 L831.68,89.34 L834.08,89.30 L836.49,89.27 L838.90,89.24 L841.30,89.21 L843.71,89.19 L846.12,89.16 L848.52,89.14 L850.93,89.12 L853.34,89.10 L855.74,89.08 L858.15,89.06 L860.56,89.05 L862.96,89.04 L865.37,89.03 L867.78,89.02 L870.18,89.01 L872.59,89.00 L875.00,89.00 L877.40,88.99 L879.81,88.99 L882.22,88.99 L884.62,88.99 L887.03,88.99 L889.44,89.00 L891.84,89.00 L894.25,89.01 L896.66,89.02 L899.06,89.02 L901.47,89.03 L903.87,89.05 L906.28,89.06 L908.69,89.07 L911.09,89.08 L913.50,89.10 L915.90,89.12 L918.31,89.13 L920.72,89.15 L923.12,89.17 L925.53,89.19 L927.93,89.21 L930.34,89.23 L932.74,89.25 L935.15,89.28 L937.55,89.30 L939.96,89.32 L942.36,89.35 L944.77,89.37 L947.17,89.40 L949.58,89.43 L951.98,89.45 L954.38,89.48 L956.79,89.51 L959.19,89.54 L961.60,89.57 L964.00,89.60" fill="none" stroke="#149684" stroke-width="2.4" stroke-linejoin="round"/>
<path d="M134.60,234.70 L136.32,233.06 L138.09,231.49 L139.93,229.99 L141.81,228.55 L143.76,227.19 L145.74,225.89 L147.78,224.66 L149.86,223.51 L151.97,222.44 L154.13,221.44 L156.32,220.52 L158.54,219.67 L160.79,218.91 L163.07,218.23 L165.36,217.64 L167.68,217.13 L170.02,216.70 L172.37,216.37 L174.73,216.12 L177.10,215.97 L179.48,215.91 L181.85,215.94 L184.23,216.07 L186.61,216.30 L188.98,216.61 L191.33,217.02 L193.68,217.52 L196.00,218.10 L198.31,218.77 L200.59,219.53 L202.84,220.36 L205.05,221.28 L207.23,222.27 L209.38,223.34 L211.47,224.49 L213.52,225.71 L215.52,226.99 L217.47,228.35 L219.36,229.77 L221.18,231.26 L222.95,232.81 L224.65,234.41 L226.30,236.07 L227.90,237.79 L229.45,239.55 L230.95,241.35 L232.41,243.19 L233.83,245.07 L235.21,246.98 L236.57,248.92 L237.89,250.88 L239.18,252.87 L240.45,254.87 L241.70,256.88 L242.93,258.91 L244.15,260.94 L245.35,262.98 L246.53,265.03 L247.70,267.09 L248.85,269.16 L249.99,271.23 L251.11,273.32 L252.22,275.41 L253.31,277.50 L254.39,279.61 L255.46,281.72 L256.51,283.84 L257.55,285.96 L258.58,288.10 L259.59,290.23 L260.59,292.38 L261.58,294.53 L262.55,296.69 L263.52,298.85 L264.47,301.02 L265.41,303.19 L266.34,305.37 L267.26,307.55 L268.17,309.74 L269.07,311.93 L269.96,314.12 L270.84,316.32 L271.71,318.53 L272.57,320.74 L273.42,322.95 L274.26,325.17 L275.10,327.39 L275.92,329.61 L276.74,331.83 L277.55,334.06 L278.35,336.29 L279.15,338.53 L279.94,340.76 L280.72,343.00 L281.50,345.24 L282.27,347.48 L283.03,349.72 L283.79,351.97 L284.54,354.21 L285.29,356.46 L286.03,358.71 L286.77,360.95 L287.51,363.20 L288.24,365.45 L288.96,367.70 L289.69,369.95 L290.41,372.20 L291.12,374.45 L291.84,376.70 L292.55,378.94 L293.26,381.19 L293.96,383.43 L294.67,385.68 L295.38,387.92 L296.08,390.16 L296.79,392.40 L297.50,394.64 L298.22,396.88 L298.94,399.11 L299.66,401.34 L300.39,403.57 L301.13,405.80 L301.88,408.02 L302.63,410.25 L303.39,412.47 L304.17,414.68 L304.95,416.89 L305.75,419.10 L306.56,421.31 L307.38,423.51 L308.22,425.71 L309.07,427.91 L309.94,430.10 L310.83,432.28 L311.74,434.47 L312.66,436.65 L313.60,438.82 L314.57,440.99 L315.55,443.15 L316.56,445.31 L317.59,447.47 L318.65,449.62 L319.75,451.76 L320.89,453.91 L322.09,456.06 L323.34,458.22 L324.67,460.38 L326.07,462.52 L327.58,464.49 L329.23,466.17 L331.04,467.41 L333.01,468.14 L335.09,468.39 L337.24,468.22 L339.41,467.70 L341.54,466.89 L343.59,465.83 L345.51,464.59 L347.31,463.19 L348.98,461.63 L350.54,459.94 L352.00,458.12 L353.37,456.19 L354.64,454.16 L355.85,452.04 L356.98,449.85 L358.05,447.60 L359.07,445.30 L360.05,442.97 L361.00,440.62 L361.92,438.26 L362.82,435.91 L363.72,433.57 L364.61,431.26 L365.50,428.96 L366.38,426.69 L367.25,424.43 L368.12,422.18 L368.99,419.95 L369.85,417.73 L370.71,415.53 L371.57,413.33 L372.42,411.14 L373.26,408.96 L374.11,406.78 L374.94,404.61 L375.78,402.44 L376.61,400.27 L377.44,398.10 L378.27,395.93 L379.09,393.76 L379.91,391.58 L380.73,389.40 L381.54,387.22 L382.35,385.03 L383.17,382.84 L383.98,380.65 L384.78,378.45 L385.59,376.25 L386.40,374.05 L387.21,371.85 L388.01,369.65 L388.82,367.44 L389.63,365.24 L390.44,363.03 L391.25,360.82 L392.06,358.61 L392.87,356.40 L393.68,354.19 L394.50,351.98 L395.32,349.77 L396.14,347.56 L396.96,345.34 L397.79,343.13 L398.62,340.92 L399.46,338.71 L400.30,336.50 L401.14,334.29 L401.99,332.09 L402.84,329.88 L403.70,327.67 L404.57,325.47 L405.43,323.27 L406.31,321.07 L407.19,318.87 L408.08,316.68 L408.98,314.49 L409.88,312.30 L410.79,310.11 L411.70,307.92 L412.63,305.74 L413.56,303.57 L414.50,301.39 L415.46,299.22 L416.42,297.06 L417.38,294.89 L418.36,292.73 L419.35,290.58 L420.35,288.43 L421.36,286.29 L422.38,284.15 L423.41,282.01 L424.45,279.88 L425.50,277.76 L426.57,275.64 L427.65,273.52 L428.74,271.42 L429.84,269.32 L430.95,267.22 L432.08,265.13 L433.22,263.05 L434.38,260.97 L435.55,258.91 L436.73,256.85 L437.93,254.79 L439.14,252.75 L440.36,250.71 L441.60,248.68 L442.85,246.65 L444.12,244.64 L445.40,242.64 L446.69,240.64 L448.00,238.66 L449.32,236.68 L450.66,234.71 L452.01,232.75 L453.37,230.81 L454.75,228.87 L456.14,226.95 L457.54,225.03 L458.96,223.13 L460.40,221.24 L461.85,219.36 L463.31,217.49 L464.78,215.63 L466.27,213.79 L467.78,211.96 L469.30,210.14 L470.83,208.33 L472.38,206.54 L473.94,204.76 L475.51,202.99 L477.10,201.24 L478.71,199.51 L480.33,197.78 L481.96,196.08 L483.61,194.38 L485.27,192.71 L486.94,191.04 L488.63,189.40 L490.34,187.76 L492.06,186.15 L493.79,184.55 L495.54,182.97 L497.30,181.40 L499.08,179.86 L500.87,178.32 L502.67,176.81 L504.49,175.32 L506.33,173.84 L508.18,172.38 L510.04,170.94 L511.92,169.51 L513.81,168.11 L515.72,166.73 L517.64,165.36 L519.58,164.01 L521.53,162.69 L523.49,161.38 L525.47,160.10 L527.46,158.83 L529.47,157.59 L531.49,156.37 L533.52,155.17 L535.56,153.99 L537.62,152.83 L539.68,151.69 L541.77,150.58 L543.86,149.49 L545.96,148.42 L548.08,147.37 L550.21,146.35 L552.34,145.35 L554.49,144.38 L556.65,143.43 L558.83,142.50 L561.01,141.60 L563.20,140.73 L565.40,139.87 L567.61,139.05 L569.83,138.24 L572.06,137.46 L574.30,136.69 L576.54,135.95 L578.79,135.23 L581.05,134.53 L583.32,133.84 L585.59,133.17 L587.87,132.52 L590.16,131.89 L592.45,131.27 L594.74,130.67 L597.04,130.07 L599.34,129.50 L601.65,128.93 L603.96,128.38 L606.28,127.83 L608.59,127.30 L610.91,126.78 L613.23,126.26 L615.55,125.75 L617.88,125.25 L620.20,124.76 L622.53,124.27 L624.85,123.79 L627.18,123.31 L629.50,122.84 L631.83,122.38 L634.16,121.92 L636.49,121.47 L638.82,121.03 L641.15,120.59 L643.48,120.15 L645.81,119.72 L648.14,119.30 L650.47,118.88 L652.80,118.47 L655.14,118.07 L657.47,117.67 L659.81,117.27 L662.14,116.88 L664.48,116.50 L666.81,116.12 L669.15,115.75 L671.49,115.38 L673.83,115.02 L676.16,114.66 L678.50,114.31 L680.84,113.96 L683.18,113.62 L685.52,113.28 L687.87,112.95 L690.21,112.63 L692.55,112.31 L694.89,111.99 L697.24,111.68 L699.58,111.37 L701.92,111.07 L704.27,110.77 L706.62,110.48 L708.96,110.19 L711.31,109.91 L713.65,109.63 L716.00,109.36 L718.35,109.09 L720.70,108.83 L723.05,108.57 L725.40,108.31 L727.75,108.06 L730.10,107.81 L732.45,107.57 L734.80,107.33 L737.15,107.10 L739.50,106.87 L741.85,106.64 L744.20,106.42 L746.56,106.21 L748.91,105.99 L751.26,105.78 L753.62,105.58 L755.97,105.38 L758.33,105.18 L760.68,104.98 L763.04,104.80 L765.39,104.61 L767.75,104.43 L770.11,104.25 L772.46,104.07 L774.82,103.90 L777.18,103.73 L779.54,103.57 L781.89,103.41 L784.25,103.25 L786.61,103.10 L788.97,102.95 L791.33,102.80 L793.69,102.66 L796.05,102.52 L798.41,102.38 L800.77,102.24 L803.13,102.11 L805.49,101.99 L807.85,101.86 L810.22,101.74 L812.58,101.62 L814.94,101.50 L817.30,101.39 L819.66,101.28 L822.03,101.17 L824.39,101.07 L826.75,100.97 L829.12,100.87 L831.48,100.77 L833.84,100.68 L836.21,100.59 L838.57,100.50 L840.94,100.41 L843.30,100.33 L845.67,100.25 L848.03,100.17 L850.40,100.09 L852.76,100.02 L855.13,99.95 L857.49,99.88 L859.86,99.81 L862.22,99.74 L864.59,99.68 L866.96,99.62 L869.32,99.56 L871.69,99.50 L874.05,99.45 L876.42,99.40 L878.79,99.34 L881.15,99.30 L883.52,99.25 L885.89,99.20 L888.25,99.16 L890.62,99.12 L892.99,99.07 L895.36,99.04 L897.72,99.00 L900.09,98.96 L902.46,98.93 L904.82,98.89 L907.19,98.86 L909.56,98.83 L911.93,98.80 L914.29,98.78 L916.66,98.75 L919.03,98.72 L921.40,98.70 L923.76,98.68 L926.13,98.66 L928.50,98.63 L930.87,98.61 L933.23,98.60 L935.60,98.58 L937.97,98.56 L940.33,98.55 L942.70,98.53 L945.07,98.52 L947.44,98.50 L949.80,98.49 L952.17,98.48 L954.54,98.46 L956.90,98.45 L959.27,98.44 L961.64,98.43 L964.00,98.42" fill="none" stroke="#0505f0" stroke-width="6" stroke-linejoin="round"/>
<path d="M135.32,171.08 L137.32,170.52 L139.36,169.96 L141.43,169.41 L143.54,168.88 L145.67,168.37 L147.83,167.89 L150.01,167.43 L152.21,167.02 L154.42,166.64 L156.64,166.31 L158.86,166.03 L161.09,165.80 L163.32,165.64 L165.55,165.54 L167.77,165.51 L169.97,165.56 L172.16,165.69 L174.33,165.91 L176.48,166.21 L178.61,166.62 L180.70,167.12 L182.76,167.73 L184.78,168.45 L186.77,169.27 L188.72,170.20 L190.63,171.21 L192.50,172.31 L194.34,173.48 L196.14,174.71 L197.90,175.99 L199.63,177.32 L201.32,178.69 L202.97,180.09 L204.60,181.52 L206.19,182.98 L207.74,184.47 L209.26,185.98 L210.76,187.53 L212.22,189.10 L213.65,190.69 L215.05,192.32 L216.42,193.96 L217.76,195.63 L219.08,197.33 L220.36,199.04 L221.63,200.78 L222.86,202.54 L224.07,204.32 L225.26,206.12 L226.42,207.93 L227.56,209.77 L228.68,211.62 L229.77,213.49 L230.85,215.38 L231.90,217.28 L232.94,219.19 L233.95,221.12 L234.95,223.06 L235.93,225.01 L236.89,226.98 L237.84,228.96 L238.77,230.94 L239.68,232.94 L240.58,234.94 L241.47,236.96 L242.34,238.98 L243.20,241.00 L244.05,243.03 L244.89,245.07 L245.72,247.11 L246.54,249.16 L247.35,251.20 L248.15,253.25 L248.95,255.31 L249.73,257.36 L250.51,259.41 L251.29,261.46 L252.05,263.52 L252.82,265.57 L253.57,267.62 L254.32,269.68 L255.07,271.73 L255.81,273.78 L256.55,275.84 L257.28,277.89 L258.01,279.94 L258.74,281.99 L259.46,284.05 L260.18,286.10 L260.90,288.15 L261.61,290.20 L262.33,292.24 L263.04,294.29 L263.74,296.34 L264.45,298.39 L265.16,300.43 L265.86,302.47 L266.57,304.52 L267.27,306.56 L267.98,308.60 L268.68,310.64 L269.39,312.67 L270.09,314.71 L270.80,316.74 L271.51,318.77 L272.22,320.80 L272.93,322.83 L273.65,324.86 L274.37,326.88 L275.09,328.91 L275.81,330.92 L276.53,332.94 L277.26,334.96 L278.00,336.97 L278.75,338.99 L279.52,341.02 L280.30,343.05 L281.11,345.10 L281.95,347.15 L282.83,349.23 L283.74,351.33 L284.69,353.44 L285.69,355.59 L286.74,357.75 L287.86,359.89 L289.06,361.97 L290.35,363.95 L291.75,365.78 L293.27,367.43 L294.92,368.84 L296.72,369.99 L298.68,370.82 L300.82,371.30 L303.04,371.44 L305.25,371.27 L307.32,370.83 L309.26,370.14 L311.07,369.23 L312.76,368.11 L314.34,366.79 L315.83,365.31 L317.22,363.68 L318.54,361.91 L319.78,360.04 L320.96,358.07 L322.10,356.03 L323.19,353.94 L324.25,351.81 L325.28,349.67 L326.31,347.54 L327.33,345.43 L328.35,343.36 L329.38,341.33 L330.42,339.35 L331.45,337.39 L332.49,335.47 L333.52,333.56 L334.55,331.67 L335.57,329.80 L336.58,327.93 L337.58,326.06 L338.57,324.20 L339.54,322.32 L340.49,320.44 L341.43,318.55 L342.36,316.65 L343.28,314.74 L344.18,312.83 L345.07,310.90 L345.95,308.98 L346.82,307.04 L347.68,305.10 L348.54,303.16 L349.38,301.20 L350.22,299.25 L351.06,297.29 L351.88,295.32 L352.71,293.35 L353.53,291.37 L354.35,289.39 L355.16,287.41 L355.98,285.42 L356.79,283.43 L357.61,281.44 L358.42,279.45 L359.24,277.45 L360.06,275.45 L360.88,273.45 L361.71,271.45 L362.54,269.45 L363.38,267.44 L364.23,265.44 L365.08,263.43 L365.94,261.43 L366.81,259.42 L367.69,257.42 L368.58,255.41 L369.48,253.41 L370.38,251.41 L371.30,249.41 L372.23,247.41 L373.16,245.42 L374.11,243.42 L375.06,241.43 L376.03,239.45 L377.00,237.46 L377.99,235.48 L378.99,233.51 L379.99,231.54 L381.01,229.57 L382.04,227.61 L383.08,225.65 L384.13,223.70 L385.19,221.75 L386.26,219.82 L387.34,217.88 L388.44,215.96 L389.54,214.04 L390.66,212.13 L391.79,210.22 L392.92,208.33 L394.08,206.44 L395.24,204.56 L396.41,202.69 L397.60,200.82 L398.80,198.97 L400.01,197.13 L401.23,195.30 L402.47,193.47 L403.71,191.66 L404.97,189.86 L406.25,188.07 L407.53,186.29 L408.83,184.52 L410.14,182.77 L411.46,181.03 L412.80,179.30 L414.15,177.58 L415.51,175.88 L416.89,174.19 L418.28,172.51 L419.68,170.85 L421.10,169.20 L422.53,167.56 L423.98,165.95 L425.43,164.34 L426.91,162.75 L428.39,161.18 L429.89,159.63 L431.41,158.09 L432.94,156.57 L434.48,155.06 L436.04,153.57 L437.61,152.10 L439.20,150.65 L440.80,149.21 L442.42,147.80 L444.05,146.40 L445.70,145.02 L447.36,143.66 L449.04,142.33 L450.74,141.01 L452.44,139.71 L454.17,138.43 L455.91,137.17 L457.66,135.93 L459.43,134.71 L461.21,133.51 L463.00,132.32 L464.81,131.16 L466.63,130.01 L468.46,128.89 L470.31,127.78 L472.17,126.68 L474.04,125.61 L475.92,124.56 L477.82,123.52 L479.72,122.50 L481.64,121.49 L483.57,120.51 L485.51,119.54 L487.45,118.58 L489.41,117.64 L491.38,116.72 L493.36,115.82 L495.35,114.93 L497.34,114.06 L499.35,113.20 L501.36,112.36 L503.38,111.53 L505.41,110.72 L507.45,109.92 L509.49,109.14 L511.54,108.37 L513.60,107.62 L515.66,106.88 L517.73,106.16 L519.81,105.44 L521.90,104.75 L523.98,104.06 L526.08,103.39 L528.18,102.73 L530.28,102.09 L532.39,101.46 L534.50,100.84 L536.62,100.23 L538.74,99.64 L540.86,99.05 L542.99,98.48 L545.12,97.93 L547.25,97.38 L549.39,96.84 L551.53,96.32 L553.67,95.80 L555.81,95.30 L557.95,94.81 L560.09,94.33 L562.24,93.86 L564.38,93.40 L566.53,92.95 L568.68,92.51 L570.82,92.07 L572.97,91.65 L575.12,91.24 L577.27,90.84 L579.42,90.45 L581.57,90.06 L583.72,89.69 L585.87,89.32 L588.02,88.96 L590.18,88.61 L592.33,88.27 L594.48,87.94 L596.64,87.62 L598.79,87.30 L600.95,86.99 L603.11,86.69 L605.26,86.40 L607.42,86.12 L609.58,85.84 L611.74,85.57 L613.90,85.30 L616.05,85.05 L618.21,84.80 L620.38,84.56 L622.54,84.32 L624.70,84.09 L626.86,83.87 L629.02,83.65 L631.18,83.44 L633.35,83.23 L635.51,83.03 L637.68,82.84 L639.84,82.65 L642.01,82.46 L644.17,82.29 L646.34,82.11 L648.50,81.95 L650.67,81.78 L652.84,81.62 L655.01,81.47 L657.17,81.32 L659.34,81.17 L661.51,81.03 L663.68,80.89 L665.85,80.76 L668.02,80.63 L670.19,80.51 L672.36,80.38 L674.53,80.26 L676.70,80.15 L678.87,80.03 L681.05,79.92 L683.22,79.82 L685.39,79.71 L687.56,79.61 L689.74,79.51 L691.91,79.41 L694.08,79.32 L696.26,79.22 L698.43,79.13 L700.61,79.04 L702.78,78.95 L704.96,78.87 L707.13,78.78 L709.31,78.70 L711.49,78.61 L713.66,78.53 L715.84,78.45 L718.01,78.37 L720.19,78.29 L722.37,78.21 L724.55,78.13 L726.72,78.05 L728.90,77.97 L731.08,77.90 L733.26,77.82 L735.43,77.74 L737.61,77.67 L739.79,77.60 L741.97,77.52 L744.15,77.45 L746.33,77.38 L748.51,77.31 L750.69,77.24 L752.87,77.17 L755.05,77.10 L757.23,77.03 L759.41,76.97 L761.59,76.90 L763.77,76.84 L765.95,76.77 L768.13,76.71 L770.31,76.65 L772.49,76.59 L774.67,76.52 L776.85,76.46 L779.03,76.41 L781.21,76.35 L783.40,76.29 L785.58,76.23 L787.76,76.18 L789.94,76.12 L792.12,76.07 L794.30,76.02 L796.49,75.96 L798.67,75.91 L800.85,75.86 L803.03,75.81 L805.21,75.76 L807.40,75.72 L809.58,75.67 L811.76,75.62 L813.94,75.58 L816.13,75.54 L818.31,75.49 L820.49,75.45 L822.67,75.41 L824.86,75.37 L827.04,75.33 L829.22,75.29 L831.40,75.26 L833.59,75.22 L835.77,75.18 L837.95,75.15 L840.13,75.12 L842.32,75.08 L844.50,75.05 L846.68,75.02 L848.86,74.99 L851.05,74.97 L853.23,74.94 L855.41,74.91 L857.59,74.89 L859.78,74.86 L861.96,74.84 L864.14,74.82 L866.32,74.80 L868.50,74.78 L870.69,74.76 L872.87,74.74 L875.05,74.73 L877.23,74.71 L879.41,74.70 L881.60,74.68 L883.78,74.67 L885.96,74.66 L888.14,74.65 L890.32,74.64 L892.50,74.63 L894.68,74.63 L896.87,74.62 L899.05,74.62 L901.23,74.62 L903.41,74.61 L905.59,74.61 L907.77,74.61 L909.95,74.62 L912.13,74.62 L914.31,74.62 L916.49,74.63 L918.67,74.63 L920.85,74.64 L923.03,74.65 L925.21,74.66 L927.39,74.67 L929.56,74.68 L931.74,74.70 L933.92,74.71 L936.10,74.73 L938.28,74.74 L940.46,74.76 L942.63,74.78 L944.81,74.80 L946.99,74.83 L949.17,74.85 L951.34,74.87 L953.52,74.90 L955.70,74.93" fill="none" stroke="#000" stroke-width="6" stroke-dasharray="8 15.3" stroke-dashoffset="1.5" stroke-linecap="round" stroke-linejoin="round"/></g>
<g stroke="#000" stroke-width="2"><line x1="135.0" y1="514.5" x2="135.0" y2="519.5"/><line x1="204.1" y1="514.5" x2="204.1" y2="523.5"/><line x1="273.2" y1="514.5" x2="273.2" y2="519.5"/><line x1="342.3" y1="514.5" x2="342.3" y2="523.5"/><line x1="411.4" y1="514.5" x2="411.4" y2="519.5"/><line x1="480.5" y1="514.5" x2="480.5" y2="523.5"/><line x1="549.6" y1="514.5" x2="549.6" y2="519.5"/><line x1="618.7" y1="514.5" x2="618.7" y2="523.5"/><line x1="687.8" y1="514.5" x2="687.8" y2="519.5"/><line x1="756.9" y1="514.5" x2="756.9" y2="523.5"/><line x1="826.0" y1="514.5" x2="826.0" y2="519.5"/><line x1="895.1" y1="514.5" x2="895.1" y2="523.5"/><line x1="964.2" y1="514.5" x2="964.2" y2="519.5"/><line x1="135.0" y1="27.5" x2="135.0" y2="32.5"/><line x1="204.1" y1="27.5" x2="204.1" y2="36.5"/><line x1="273.2" y1="27.5" x2="273.2" y2="32.5"/><line x1="342.3" y1="27.5" x2="342.3" y2="36.5"/><line x1="411.4" y1="27.5" x2="411.4" y2="32.5"/><line x1="480.5" y1="27.5" x2="480.5" y2="36.5"/><line x1="549.6" y1="27.5" x2="549.6" y2="32.5"/><line x1="618.7" y1="27.5" x2="618.7" y2="36.5"/><line x1="687.8" y1="27.5" x2="687.8" y2="32.5"/><line x1="756.9" y1="27.5" x2="756.9" y2="36.5"/><line x1="826.0" y1="27.5" x2="826.0" y2="32.5"/><line x1="895.1" y1="27.5" x2="895.1" y2="36.5"/><line x1="964.2" y1="27.5" x2="964.2" y2="32.5"/><line x1="135" y1="514.5" x2="130" y2="514.5"/><line x1="964" y1="514.5" x2="959" y2="514.5"/><line x1="135" y1="470.2" x2="126" y2="470.2"/><line x1="964" y1="470.2" x2="955" y2="470.2"/><line x1="135" y1="425.9" x2="130" y2="425.9"/><line x1="964" y1="425.9" x2="959" y2="425.9"/><line x1="135" y1="381.7" x2="126" y2="381.7"/><line x1="964" y1="381.7" x2="955" y2="381.7"/><line x1="135" y1="337.4" x2="130" y2="337.4"/><line x1="964" y1="337.4" x2="959" y2="337.4"/><line x1="135" y1="293.1" x2="126" y2="293.1"/><line x1="964" y1="293.1" x2="955" y2="293.1"/><line x1="135" y1="248.8" x2="130" y2="248.8"/><line x1="964" y1="248.8" x2="959" y2="248.8"/><line x1="135" y1="204.6" x2="126" y2="204.6"/><line x1="964" y1="204.6" x2="955" y2="204.6"/><line x1="135" y1="160.3" x2="130" y2="160.3"/><line x1="964" y1="160.3" x2="959" y2="160.3"/><line x1="135" y1="116.0" x2="126" y2="116.0"/><line x1="964" y1="116.0" x2="955" y2="116.0"/><line x1="135" y1="71.8" x2="130" y2="71.8"/><line x1="964" y1="71.8" x2="959" y2="71.8"/><line x1="135" y1="27.5" x2="126" y2="27.5"/><line x1="964" y1="27.5" x2="955" y2="27.5"/></g>
<rect x="135" y="27.5" width="829" height="487" fill="none" stroke="#000" stroke-width="2"/>
<rect x="783" y="283.5" width="150.3" height="197.8" fill="#fff" stroke="#222" stroke-width="1.6"/>
<g stroke-width="2.2">
<line x1="786.4" y1="301.6" x2="845.8" y2="301.6" stroke="#d80a12"/>
<line x1="786.4" y1="333.9" x2="845.8" y2="333.9" stroke="#e07a18"/>
<line x1="786.4" y1="366.3" x2="845.8" y2="366.3" stroke="#8ce418"/>
<line x1="786.4" y1="398.5" x2="845.8" y2="398.5" stroke="#149684"/>
</g>
<line x1="787" y1="430.8" x2="844.3" y2="430.8" stroke="#0505f0" stroke-width="5" stroke-linecap="round"/>
<line x1="787.6" y1="462.8" x2="844.6" y2="462.8" stroke="#000" stroke-width="6" stroke-linecap="round" stroke-dasharray="9 19"/>
<g font-size="26.5">
<text x="854.5" y="309.6">88°</text>
<text x="854.5" y="342.9">86°</text>
<text x="854.5" y="375.2">84°</text>
<text x="854.5" y="406.3">82°</text>
<text x="854.5" y="438.3">80°</text>
</g>
<text x="854.3" y="468.1" font-size="17.6" font-weight="bold" textLength="69.5" lengthAdjust="spacingAndGlyphs">80° ~ 88°</text>

<g font-size="42"><text transform="translate(117,483.6) scale(1,1.045)" text-anchor="end">0.0</text><text transform="translate(117,395.1) scale(1,1.045)" text-anchor="end">0.2</text><text transform="translate(117,306.5) scale(1,1.045)" text-anchor="end">0.4</text><text transform="translate(117,218.0) scale(1,1.045)" text-anchor="end">0.6</text><text transform="translate(117,129.4) scale(1,1.045)" text-anchor="end">0.8</text><text transform="translate(117,40.9) scale(1,1.045)" text-anchor="end">1.0</text><text transform="translate(204.4,564.8) scale(1,1.06)" font-size="43.2" text-anchor="middle">550</text><text transform="translate(342.6,564.8) scale(1,1.06)" font-size="43.2" text-anchor="middle">650</text><text transform="translate(480.8,564.8) scale(1,1.06)" font-size="43.2" text-anchor="middle">750</text><text transform="translate(619.0,564.8) scale(1,1.06)" font-size="43.2" text-anchor="middle">850</text><text transform="translate(757.2,564.8) scale(1,1.06)" font-size="43.2" text-anchor="middle">950</text><text transform="translate(895.4,564.8) scale(1,1.06)" font-size="43.2" text-anchor="middle">1050</text></g>
<text x="350.5" y="637.4" font-size="56.3" textLength="399" lengthAdjust="spacingAndGlyphs">Wavelength (nm)</text>
<text transform="translate(46.7,540) rotate(-90)" font-size="57.2" textLength="536" lengthAdjust="spacingAndGlyphs">Normalized reflectance</text>
</svg>
</body></html>
